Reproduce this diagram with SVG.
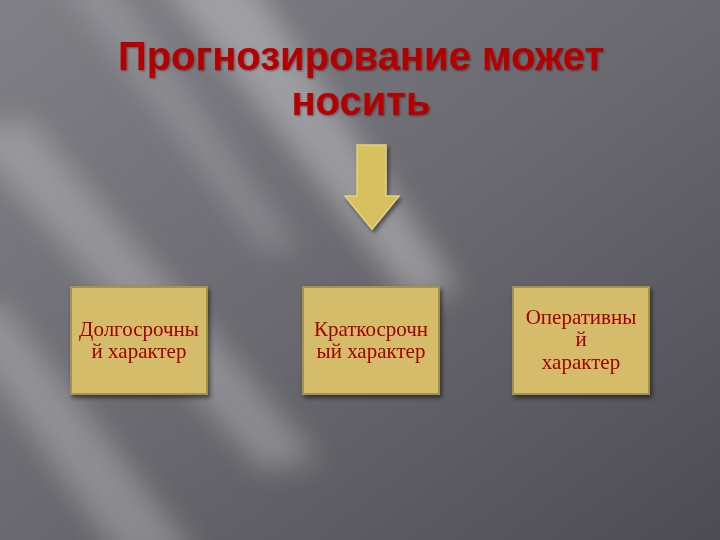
<svg xmlns="http://www.w3.org/2000/svg" width="720" height="540" viewBox="0 0 720 540">
<defs>
<linearGradient id="bg" x1="0" y1="0" x2="1" y2="1">
<stop offset="0" stop-color="#808086"/>
<stop offset="0.5" stop-color="#69696f"/>
<stop offset="1" stop-color="#4c4c52"/>
</linearGradient>
<filter id="blur" x="-50%" y="-50%" width="200%" height="200%"><feGaussianBlur stdDeviation="14"/></filter>
<filter id="shadow" x="-10%" y="-10%" width="130%" height="130%"><feDropShadow dx="2" dy="3" stdDeviation="2" flood-color="#000" flood-opacity="0.5"/></filter>
<filter id="tshadow"><feDropShadow dx="1" dy="1" stdDeviation="1" flood-color="#000" flood-opacity="0.4"/></filter>
<style>
.title{font-family:"Liberation Sans",Arial,sans-serif;font-weight:bold;font-size:40px;fill:#b40000;text-anchor:middle}
.box{fill:#d4bc6a;stroke:#a3934c;stroke-width:2}
.lbl{font-family:"Liberation Serif","Times New Roman",serif;font-size:21px;fill:#a20000;text-anchor:middle}
</style>
</defs>
<rect width="720" height="540" fill="url(#bg)"/>
<g filter="url(#blur)" fill="#d0d0d4">
<polygon points="160,-20 250,-20 460,290 410,300" opacity="0.45"/>
<polygon points="-40,130 30,120 320,460 260,470" opacity="0.35"/>
<polygon points="-40,330 0,300 200,560 120,560" opacity="0.35"/>
<polygon points="60,-20 110,-20 300,250 260,250" opacity="0.25"/>
</g>
<g id="title" filter="url(#tshadow)">
<text class="title" x="361" y="70">Прогнозирование может</text>
<text class="title" x="361" y="115">носить</text>
</g>
<g id="connectors">
<polygon points="357,145 386,145 386,196 399,196 372,229 345,196 357,196" fill="#d6c060" stroke="#e4d27a" stroke-width="1.5" filter="url(#shadow)"/>
</g>
<g id="node1">
<rect class="box" x="71" y="287" width="136" height="107" filter="url(#shadow)"/>
<text class="lbl" x="139" y="336">Долгосрочны</text>
<text class="lbl" x="139" y="358">й характер</text>
</g>
<g id="node2">
<rect class="box" x="303" y="287" width="136" height="107" filter="url(#shadow)"/>
<text class="lbl" x="371" y="336">Краткосрочн</text>
<text class="lbl" x="371" y="358">ый характер</text>
</g>
<g id="node3">
<rect class="box" x="513" y="287" width="136" height="107" filter="url(#shadow)"/>
<text class="lbl" x="581" y="324">Оперативны</text>
<text class="lbl" x="581" y="346">й</text>
<text class="lbl" x="581" y="369">характер</text>
</g>
</svg>
